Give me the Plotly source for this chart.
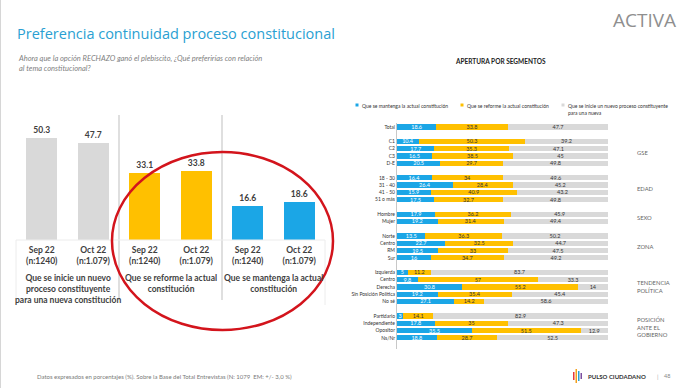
import plotly.graph_objects as go

W, H = 690, 388

# ---------------- Left chart data ----------------
periods = ["Sep 22", "Oct 22"]
samples = ["(n:1240)", "(n:1.079)"]
option_names = [
    "Que se inicie un nuevo proceso constituyente para una nueva constitución",
    "Que se reforme la actual constitución",
    "Que se mantenga la actual constitución",
]
option_labels = [
    "Que se inicie un nuevo<br>proceso constituyente<br>para una nueva constitución",
    "Que se reforme la actual<br>constitución",
    "Que se mantenga la actual<br>constitución",
]
inicie_vals = [50.3, 47.7]
reforme_vals = [33.1, 33.8]
mantenga_vals = [16.6, 18.6]

# ---------------- Right chart data ----------------
legend_labels = [
    "Que se mantenga la actual constitución",
    "Que se reforme la actual constitución",
    "Que se inicie un nuevo proceso constituyente<br>para una nueva",
]
group_names = ["", "GSE", "EDAD", "SEXO", "ZONA", "TENDENCIA<br>POLÍTICA",
               "POSICIÓN<br>ANTE EL<br>GOBIERNO"]
group_rows = [
    ["Total"],
    ["C1", "C2", "C3", "D-E"],
    ["18 - 30", "31 - 40", "41 - 50", "51 o más"],
    ["Hombre", "Mujer"],
    ["Norte", "Centro", "RM", "Sur"],
    ["Izquierda", "Centro", "Derecha", "Sin Posición Política", "No sé"],
    ["Partidario", "Independiente", "Opositor", "Ns/Nr"],
]
mantenga_seg = [[18.6], [10.4, 17.7, 16.5, 20.5], [16.4, 26.4, 15.9, 17.5], [17.9, 19.2],
                [13.5, 22.7, 19.5, 16], [5, 9.8, 30.8, 19.2, 27.1], [3, 17.8, 35.5, 18.8]]
reforme_seg = [[33.8], [50.3, 35.3, 38.5, 29.7], [34, 28.4, 40.9, 32.7], [36.2, 31.4],
               [36.3, 32.5, 33, 34.7], [11.2, 57, 55.2, 35.4, 14.2], [14.1, 35, 51.5, 28.7]]
inicie_seg = [[47.7], [39.2, 47.1, 45, 49.8], [49.6, 45.2, 43.2, 49.8], [45.9, 49.4],
              [50.2, 44.7, 47.5, 49.2], [83.7, 33.3, 14, 45.4, 58.6], [82.9, 47.3, 12.9, 52.5]]

BLUE = "#1ba6e6"
YELLOW = "#ffc000"
GRAY = "#d9d9d9"
colors = [GRAY, YELLOW, BLUE]
FONT = "Lato"


def px(x):
    return x / W


def py(y):
    return 1 - y / H


fig = go.Figure()

# ---- left bars ----
left_vals = [inicie_vals, reforme_vals, mantenga_vals]
for g, vals in enumerate(left_vals):
    xs = [2 * g + p for p in range(len(periods))]
    fig.add_trace(go.Bar(
        x=xs, y=vals, width=0.6, marker=dict(color=colors[g], line=dict(width=0)),
        text=vals, texttemplate="<b>%{y}</b>", textposition="outside",
        textfont=dict(size=8.5, color="#404040", family=FONT), cliponaxis=False,
        name=option_names[g], showlegend=False, xaxis="x", yaxis="y",
    ))

tick_vals = []
tick_text = []
for g in range(len(option_labels)):
    for p in range(len(periods)):
        tick_vals.append(2 * g + p)
        tick_text.append(f"<b>{periods[p]}</b><br><b>{samples[p]}</b>")

# ---- right stacked bars ----
slot = 0
y_pos, y_lab, m_flat, r_flat, i_flat = [], [], [], [], []
group_centers = []
for gi, rows in enumerate(group_rows):
    start = slot
    for ri, lab in enumerate(rows):
        y_pos.append(slot)
        y_lab.append(lab)
        m_flat.append(mantenga_seg[gi][ri])
        r_flat.append(reforme_seg[gi][ri])
        i_flat.append(inicie_seg[gi][ri])
        slot += 1
    group_centers.append((start + slot - 1) / 2)
    slot += 1
n_slots = slot - 1

seg_series = [(m_flat, BLUE, "white"), (r_flat, YELLOW, "#333333"), (i_flat, GRAY, "#333333")]
for k, (vals, col, tcol) in enumerate(seg_series):
    fig.add_trace(go.Bar(
        x=vals, y=y_pos, orientation="h", width=0.72,
        marker=dict(color=col, line=dict(width=0)),
        text=vals, texttemplate="%{x}", textposition="inside", insidetextanchor="middle",
        textangle=0, constraintext="none",
        textfont=dict(size=5.5, color=tcol, family=FONT),
        name=legend_labels[k], showlegend=False, xaxis="x2", yaxis="y2",
    ))

shapes = []
annotations = []

# page left border
shapes.append(dict(type="line", xref="paper", yref="paper", x0=px(0.5), x1=px(0.5),
                   y0=0, y1=1, line=dict(color="#d6d6d6", width=1)))

# separators on left chart
for xs in [1.5, 3.5]:
    shapes.append(dict(type="line", xref="x", yref="paper", x0=xs, x1=xs,
                       y0=py(300), y1=py(115), line=dict(color="#bfbfbf", width=1)))
# faint table lines
shapes.append(dict(type="line", xref="paper", yref="paper", x0=px(16), x1=px(325),
                   y0=py(240), y1=py(240), line=dict(color="#ececec", width=1)))
for xx in [16, 325]:
    shapes.append(dict(type="line", xref="paper", yref="paper", x0=px(xx), x1=px(xx),
                       y0=py(305), y1=py(240), line=dict(color="#ececec", width=1)))

# group labels on left
for g, lab in enumerate(option_labels):
    annotations.append(dict(xref="x", yref="paper", x=2 * g + 0.5, y=py(271), yanchor="top",
                            text=f"<b>{lab}</b>", showarrow=False,
                            font=dict(size=8.5, color="#404040", family=FONT)))

# red ellipse
shapes.append(dict(type="circle", xref="paper", yref="paper", x0=px(112), x1=px(333),
                   y0=py(330), y1=py(152), line=dict(color="#d3141c", width=2.5)))

# group labels on right
for gi, name in enumerate(group_names):
    if name:
        annotations.append(dict(xref="paper", yref="y2", x=px(635), y=group_centers[gi],
                                xanchor="left", yanchor="middle", align="left", text=name,
                                showarrow=False, font=dict(size=5.8, color="#666666", family=FONT)))

# manual legend
leg_x = [357, 462, 563]
leg_cols = [BLUE, YELLOW, GRAY]
for k in range(3):
    shapes.append(dict(type="rect", xref="paper", yref="paper", x0=px(leg_x[k] - 1.5),
                       x1=px(leg_x[k] + 1.5), y0=py(106.5), y1=py(103.5),
                       fillcolor=leg_cols[k], line=dict(width=0)))
    annotations.append(dict(xref="paper", yref="paper", x=px(leg_x[k] + 2.5), y=py(101),
                            xanchor="left", yanchor="top", align="left", text=legend_labels[k],
                            showarrow=False, font=dict(size=5, color="#333333", family=FONT)))

# titles and texts
annotations += [
    dict(xref="paper", yref="paper", x=px(15), y=py(33), xanchor="left", yanchor="middle",
         text="Preferencia continuidad proceso constitucional", showarrow=False,
         font=dict(size=14.5, color="#2a9fd2", family="Open Sans")),
    dict(xref="paper", yref="paper", x=px(16), y=py(52), xanchor="left", yanchor="top",
         align="left",
         text="<i>Ahora que la opción RECHAZO ganó el plebiscito, ¿Qué preferirías con relación<br>al tema constitucional?</i>",
         showarrow=False, font=dict(size=7.5, color="#7f7f7f", family=FONT)),
    dict(xref="paper", yref="paper", x=px(500), y=py(62), xanchor="center", yanchor="middle",
         text="<b>APERTURA POR SEGMENTOS</b>", showarrow=False,
         font=dict(size=6.5, color="#222222", family=FONT)),
    dict(xref="paper", yref="paper", x=px(611), y=py(20), xanchor="left", yanchor="middle",
         text="ACTIVA", showarrow=False,
         font=dict(size=19, color="#8f8f8f", family="Open Sans")),
    dict(xref="paper", yref="paper", x=px(35), y=py(376), xanchor="left", yanchor="middle",
         text="Datos expresados en porcentajes (%). Sobre la Base del Total Entrevistas (N: 1079  EM: +/- 3,0 %)",
         showarrow=False, font=dict(size=6, color="#7a7a7a", family=FONT)),
    dict(xref="paper", yref="paper", x=px(586), y=py(376), xanchor="left", yanchor="middle",
         text="<b>PULSO CIUDADANO</b>", showarrow=False,
         font=dict(size=6, color="#333333", family=FONT)),
    dict(xref="paper", yref="paper", x=px(655), y=py(376), xanchor="left", yanchor="middle",
         text="|", showarrow=False, font=dict(size=6, color="#aaaaaa", family=FONT)),
    dict(xref="paper", yref="paper", x=px(662), y=py(376), xanchor="left", yanchor="middle",
         text="48", showarrow=False, font=dict(size=5.5, color="#888888", family=FONT)),
]

# small logo bars (decorative)
logo = [(573, 372, 380, "#e5383b"), (575.5, 369, 383, "#f4a11d"),
        (578, 371, 381, "#2a9fd2"), (580.5, 373, 379, "#7b4fa0")]
for lx, y0, y1, c in logo:
    shapes.append(dict(type="rect", xref="paper", yref="paper", x0=px(lx), x1=px(lx + 1.5),
                       y0=py(y1), y1=py(y0), fillcolor=c, line=dict(width=0)))

fig.update_layout(
    width=W, height=H, margin=dict(l=0, r=0, t=0, b=0),
    paper_bgcolor="white", plot_bgcolor="rgba(0,0,0,0)",
    barmode="stack", showlegend=False,
    font=dict(family=FONT, color="#333333"),
    xaxis=dict(domain=[px(16), px(325)], range=[-0.5, 5.5], tickmode="array",
               tickvals=tick_vals, ticktext=tick_text, showgrid=False, zeroline=False,
               showline=False, ticks="", tickfont=dict(size=8.5, color="#404040", family=FONT),
               ticklabelstandoff=3, fixedrange=True),
    yaxis=dict(domain=[py(240), py(115)], range=[0, 61.6], visible=False, fixedrange=True),
    xaxis2=dict(domain=[px(397), px(608)], range=[0, 100], visible=False, anchor="y2",
                fixedrange=True),
    yaxis2=dict(domain=[py(348.75), py(123.25)], range=[n_slots + 0.5, -0.5], anchor="x2",
                tickmode="array", tickvals=y_pos, ticktext=y_lab, showgrid=False,
                zeroline=False, showline=True, linecolor="#c8c8c8", linewidth=1, ticks="",
                tickfont=dict(size=5, color="#333333", family=FONT), fixedrange=True),
    shapes=shapes, annotations=annotations,
)

fig.write_html("out.html", config={"displayModeBar": False},
               post_script="document.body.style.margin='0';document.body.style.overflow='hidden';")
